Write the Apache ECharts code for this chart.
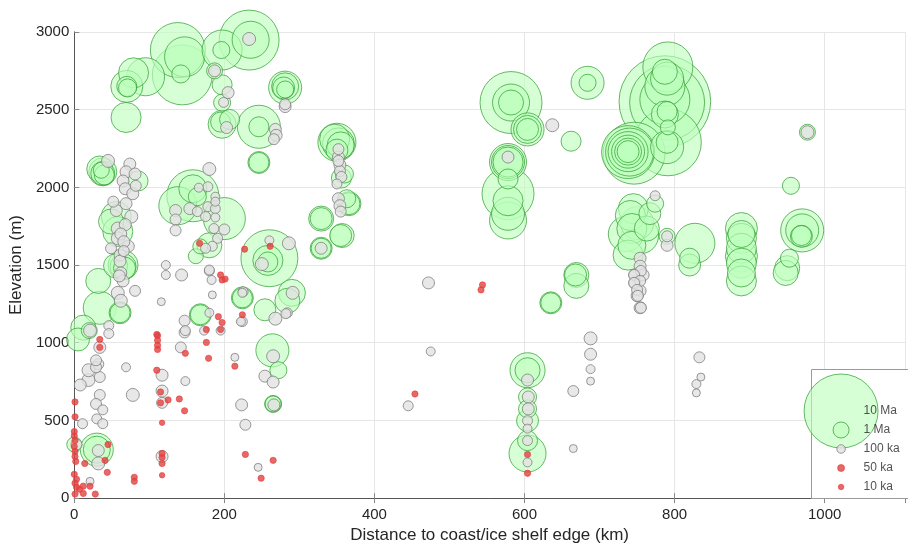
<!DOCTYPE html>
<html><head><meta charset="utf-8">
<script src="https://cdn.jsdelivr.net/npm/echarts@6/dist/echarts.min.js"></script>
<style>html,body{margin:0;padding:0;background:#fff}#c{width:908px;height:549px}</style>
</head><body><div id="c"></div>
<script>
// [distance km, elevation m, age ka]
const greenSamples = [
 [70,2650,2840],[70,2650,1400],[71,2640,1200],[95,2712,3680],[79,2737,2580],[69,2450,2580],
 [138,2884,6390],[144,2724,7290],[147,2840,3970],[142,2730,1200],
 [197,2884,3970],[196,2884,1100],[233,2948,7290],[235,2950,3530],
 [187,2750,1000],[197,2660,1400],[197,2545,1100],[195,2420,1400],[207,2437,1400],[197,2406,2320],
 [246,2390,4430],[246,2390,1400],[246,2160,1400],[246,2160,1610],
 [281,2642,2970],[281,2650,2200],[279,2640,1610],[281,2630,1100],
 [347,2310,2580],[350,2290,3680],[352,2280,2840],[355,2270,2200],[350,2240,1610],[360,2086,1200],[356,2060,1400],
 [366,1895,1610],[363,1927,1200],[366,1895,1840],[355,1690,1610],[357,1690,1840],
 [329,1799,1610],[329,1799,1960],[329,1608,1400],[329,1608,1610],
 [38,2100,2320],[38,2090,1840],[40,2080,1400],[36,2110,1000],[34,2118,2080],[85,2041,1400],
 [49,1780,1960],[56,1812,2580],[58,1716,2580],
 [65,1500,2580],[65,1490,2080],[67,1480,1610],[55,1495,1840],[32,1398,1960],[34,1225,2970],[61,1193,1400],[61,1193,1610],
 [5,1021,1720],[12,1097,1960],[20,1078,1000],[30,312,2970],[30,312,2200],[0,345,790],
 [168,1180,1400],[168,1180,1610],[224,1289,1610],[224,1289,1400],[254,1212,1610],[284,1270,1960],[290,1321,2200],
 [264,951,2970],[272,823,1100],[265,606,1100],[265,606,1000],[260,1544,6740],[258,1530,2580],[258,1520,1400],
 [158,1946,5880],[158,1991,2320],[164,1940,1200],[200,1799,4270],[138,1882,3680],[162,1557,790],[180,1627,1960],[168,1620,790],
 [582,2546,7660],[582,2546,3530],[582,2546,1960],[604,2373,2970],[604,2373,2320],[604,2373,1610],[662,2297,1400],
 [684,2673,2970],[684,2673,1100],
 [578,2163,3530],[578,2163,2970],[578,2163,2580],[578,2054,1400],[578,1959,5880],[578,1914,2580],[578,1830,2970],[578,1787,3530],
 [668,1436,1610],[669,1436,1960],[669,1366,1960],[635,1257,1400],[635,1257,1610],
 [604,823,3250],[604,823,1960],[604,651,1200],[604,574,1200],[604,498,1610],[604,370,1400],[604,287,3530],
 [790,2546,10200],[787,2552,13800],[791,2290,8600],[787,2565,5550],[787,2744,1960],[791,2775,5550],[787,2469,2200],
 [790,2488,1400],[791,2386,790],[790,2290,1610],[790,2259,2970],[787,2650,3970],[790,2700,2970],
 [746,2220,7660],[738,2227,6050],[740,2227,5220],[738,2230,3970],[738,2230,2970],[738,2230,2200],[738,2230,1610],
 [774,1895,1100],[745,1863,2580],[741,1819,2580],[743,1735,2580],[754,1691,3530],[743,1627,2320],[738,1564,2580],
 [767,1831,1610],[763,1735,1960],[735,1700,3250],[750,1770,2970],[790,1685,1000],
 [827,1640,3970],[820,1544,1400],[820,1500,1610],
 [889,1735,2840],[889,1672,2580],[889,1608,2580],[889,1557,2840],[889,1512,2580],[889,1449,2320],[889,1398,2580],[889,1700,2200],
 [977,2355,1000],[955,2010,1100],[970,1723,4430],[970,1723,2970],[969,1685,1610],[969,1690,1400],[953,1544,1200],[950,1480,1960],[948,1449,1960]
];
const greySamples = [
 [233,2955,469],[187,2750,351],[205,2610,351],[199,2547,180],[203,2385,351],[268,2373,351],[269,2335,351],[266,2310,256],
 [281,2520,351],[281,2535,256],
 [352,2246,256],[352,2195,351],[354,2144,351],[354,2105,256],[356,2067,256],[350,2022,180],[352,2170,256],
 [352,1927,351],[354,1882,351],[355,1844,256],[329,1608,351],
 [45,2170,469],[74,2150,351],[69,2100,351],[81,2086,351],[65,2041,351],[82,2010,256],[68,1991,351],[78,1959,351],
 [52,1908,256],[56,1851,351],[69,1895,351],[76,1812,469],[58,1735,469],[49,1608,256],[58,1672,469],[72,1621,351],
 [61,1564,351],[61,1525,351],[62,1449,351],[65,1398,351],[58,1321,469],[62,1270,469],[81,1334,256],[68,1760,351],
 [62,1700,351],[66,1650,351],[66,1590,256],[60,1430,351],
 [122,1500,123],[122,1436,123],[116,1264,80],
 [21,1078,469],[46,1110,180],[46,1059,180],[34,970,351],[32,862,256],[19,760,469],[8,728,351],[34,779,256],[34,664,256],
 [29,606,256],[38,568,180],[30,510,180],[38,479,180],[11,479,180],[3,345,256],[32,306,351],[32,223,469],[69,842,123],
 [78,664,469],[21,108,80],[29,842,256],[29,887,256],[19,823,469],
 [147,1142,256],[147,1066,256],[142,970,256],[117,791,351],[117,689,351],[117,613,256],[117,268,351],[148,753,123],
 [143,1436,351],[180,1462,180],[183,1404,123],[184,1308,80],[180,1193,123],[173,1078,123],[195,1078,123],[214,906,80],
 [224,1321,123],[222,1136,123],[223,600,351],[228,472,256],[245,198,80],[254,785,351],[265,747,351],[265,913,469],
 [266,600,351],[268,1155,469],[291,1321,469],[284,1193,180],[250,1506,469],[260,1659,123],[286,1640,469],
 [180,2118,469],[178,2004,180],[166,1998,123],[188,1940,123],[188,1908,123],[135,1851,351],[154,1863,351],[178,1876,180],
 [188,1863,180],[164,1844,180],[175,1812,180],[188,1806,123],[135,1793,256],[135,1723,256],[186,1735,180],[200,1729,256],
 [191,1672,180],[184,1621,180],[175,1608,180],[180,1468,180],[225,1328,180],[224,1136,180],[282,1187,180],[148,1078,180],
 [472,1385,351],[475,944,123],[445,594,180],
 [604,760,351],[605,651,351],[605,574,351],[604,498,180],[604,447,123],[604,370,180],[604,230,123],
 [637,2400,469],[578,2195,351],[688,1028,469],[688,926,351],[688,830,123],[688,753,80],[665,689,256],[665,319,80],
 [833,906,256],[835,779,80],[829,734,123],[829,677,80],
 [755,1462,256],[746,1436,256],[754,1398,256],[746,1385,256],[750,1340,256],[751,1302,256],[755,1225,256],
 [754,1544,351],[754,1493,351],[747,1436,351],[758,1436,351],[747,1385,351],[754,1334,351],[750,1302,351],[754,1225,351],
 [774,1946,180],[790,1685,256],[790,1627,351],[977,2355,469]
];
const redSamples = [
 [1,619,24],[1,523,24],[0,428,24],[0,400,24],[1,370,24],[0,332,24],[1,300,24],[1,268,24],[2,236,24],[0,153,24],
 [3,121,24],[1,96,24],[3,70,24],[7,57,24],[1,26,24],[12,77,24],[21,77,24],[14,223,24],[34,1021,24],[34,970,24],
 [45,345,24],[41,243,24],[44,166,24],[28,26,24],[12,30,24],[80,134,24],[80,108,24],
 [111,1046,24],[111,1015,24],[111,983,24],[111,957,24],[110,823,24],[115,683,24],[125,632,24],[115,613,24],
 [140,638,24],[147,562,24],[117,485,10],[117,287,24],[117,262,24],[117,223,24],[117,147,10],[148,932,24],
 [176,1085,24],[176,1002,24],[179,900,24],[192,1168,24],[197,1130,24],[195,1085,24],[214,849,24],[224,1180,24],
 [228,281,24],[265,243,24],[249,128,24],[195,1436,24],[201,1410,24],[197,1404,24],[167,1640,24],[227,1602,24],
 [261,1621,24],[544,1372,24],[542,1340,24],[454,670,24],[604,281,24],[604,160,24],[110,1053,24]
];
const legendAges = [10000, 1000, 100, 50, 10];
const legendLabels = ['10 Ma', '1 Ma', '100 ka', '50 ka', '10 ka'];
const xTicks = [0, 200, 400, 600, 800, 1000];
const yTicks = [0, 500, 1000, 1500, 2000, 2500, 3000];

// marker diameter (px) from age (ka): log-log interpolation between legend sizes
const sizeAnchors = [[10,5.5],[50,7],[100,8.5],[1000,16],[10000,74]];
function sizeFor(age){
  const a = sizeAnchors;
  let i = 0;
  while (i < a.length - 2 && age > a[i+1][0]) i++;
  const [x0,y0] = a[i], [x1,y1] = a[i+1];
  const t = Math.log(age/x0)/Math.log(x1/x0);
  return Math.exp(Math.log(y0) + t*(Math.log(y1)-Math.log(y0)));
}
const byAgeDesc = (arr) => arr.slice().sort((p,q)=>q[2]-p[2]);

const FONT = 'Liberation Sans, Arial, Helvetica, sans-serif';
const GREEN = {color:'rgba(190,255,190,0.78)', borderColor:'#2e9e2e', borderWidth:0.9};
const GREY = {color:'#e2e2e2', borderColor:'#808080', borderWidth:1};
const RED = {color:'#dd4444', borderColor:'#ee3a3a', borderWidth:0.8};
const chart = echarts.init(document.getElementById('c'), null, {renderer:'canvas'});
const option = {
  animation: false,
  backgroundColor: '#ffffff',
  grid: [
    {left: 71, right: 1, top: 32, bottom: 47},
    {left: 811, top: 401.5, width: 97, height: 95}
  ],
  xAxis: [
    {gridIndex:0, type:'value', min:0, max:1107, interval:200,
     name:'Distance to coast/ice shelf edge (km)', nameLocation:'middle', nameGap:27,
     nameTextStyle:{fontFamily:FONT, fontSize:17, color:'#262626'},
     axisLine:{lineStyle:{color:'#8a8a8a', width:1}},
     axisTick:{inside:true, length:5, lineStyle:{color:'#8a8a8a'}},
     axisLabel:{fontFamily:FONT, fontSize:15, color:'#262626', margin:9,
       formatter:(v)=> xTicks.includes(v) ? String(v) : ''},
     splitLine:{show:true, lineStyle:{color:'#e6e6e6', width:1}}},
    {gridIndex:0, type:'value', position:'top', min:0, max:1107, interval:200,
     axisLine:{show:true, lineStyle:{color:'#555', width:1}},
     axisTick:{inside:true, length:5, lineStyle:{color:'#888'}},
     axisLabel:{show:false}, splitLine:{show:false}},
    {gridIndex:1, type:'value', min:0, max:1, show:false}
  ],
  yAxis: [
    {gridIndex:0, type:'value', min:0, max:3000, interval:500,
     name:'Elevation (m)', nameLocation:'middle', nameGap:42, nameRotate:90,
     nameTextStyle:{fontFamily:FONT, fontSize:17, color:'#262626'},
     axisLine:{show:true, lineStyle:{color:'#8a8a8a', width:1}},
     axisTick:{show:true, inside:true, length:5, lineStyle:{color:'#8a8a8a'}},
     axisLabel:{fontFamily:FONT, fontSize:15, color:'#262626', margin:5,
       formatter:(v)=> yTicks.includes(v) ? String(v) : ''},
     splitLine:{show:true, lineStyle:{color:'#e6e6e6', width:1}}},
    {gridIndex:0, type:'value', position:'right', min:0, max:3000, interval:500,
     axisLine:{show:true, lineStyle:{color:'#555'}}, axisTick:{show:false},
     axisLabel:{show:false}, splitLine:{show:false}},
    {gridIndex:1, type:'category', data:legendLabels, inverse:true, show:false}
  ],
  graphic: [{
    type:'rect', left:811, top:369, z:50,
    shape:{width:100, height:129},
    style:{fill:'#ffffff', stroke:'#9a9a9a', lineWidth:1}
  }],
  series: [
    {type:'scatter', xAxisIndex:0, yAxisIndex:0, z:2, data: byAgeDesc(greenSamples),
     symbolSize:(v)=>sizeFor(v[2]), itemStyle:GREEN},
    {type:'scatter', xAxisIndex:0, yAxisIndex:0, z:3, data: byAgeDesc(greySamples),
     symbolSize:(v)=>sizeFor(v[2]), itemStyle:GREY},
    {type:'scatter', xAxisIndex:0, yAxisIndex:0, z:4, data: redSamples,
     symbolSize:(v)=>sizeFor(v[2]), itemStyle:RED},
    {type:'scatter', xAxisIndex:2, yAxisIndex:2, z:60,
     data: legendAges.map((a,i)=>({value:[0.31, legendLabels[i], a],
       itemStyle: a >= 1000 ? GREEN : a >= 100 ? GREY : RED})),
     symbolSize:(v)=>sizeFor(v[2])},
    {type:'scatter', xAxisIndex:2, yAxisIndex:2, z:70,
     data: legendLabels.map((l)=>[0.31, l]), symbolSize:1,
     itemStyle:{color:'rgba(0,0,0,0)'},
     label:{show:true, position:'right', distance:22, formatter:(p)=>p.value[1],
       fontFamily:FONT, fontSize:12, color:'#262626'}}
  ]
};
chart.setOption(option);
</script></body></html>
